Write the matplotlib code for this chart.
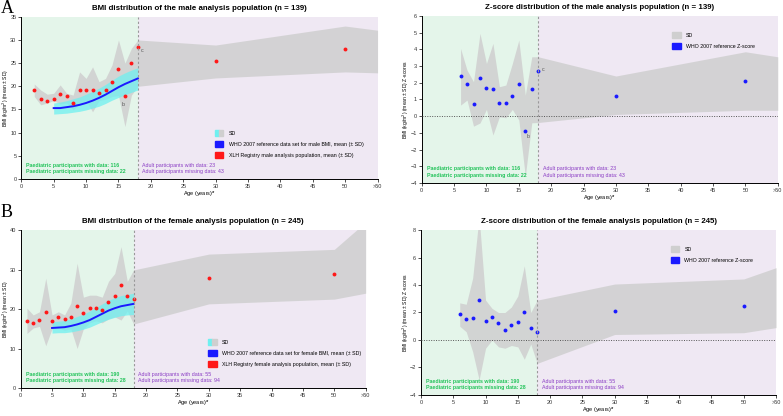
import matplotlib
matplotlib.use("Agg")
from matplotlib import pyplot as plt
from matplotlib.patches import Patch
from matplotlib.legend_handler import HandlerTuple

plt.rcParams['font.family'] = ['Liberation Sans', 'DejaVu Sans']

# ---- data ----
adult_age = [30, 50]
xtick_pos = [0, 5, 10, 15, 20, 25, 30, 35, 40, 45, 50, 55]
xtick_labels = ['0', '5', '10', '15', '20', '25', '30', '35', '40', '45', '50', '>50']

# male BMI
m_bmi_age = list(range(2, 19))
m_bmi = [19.1, 17.3, 16.8, 17.3, 18.3, 17.8, 16.5, 19.2, 19.1, 19.3, 18.6, 19.3,
         21.0, 23.7, 17.8, 25.0, 28.5]
m_bmi_adult = [25.4, 28.0]
m_band_age = list(range(2, 19)) + [30, 50, 55]
m_band_hi = [20.5, 19.2, 18.3, 18.5, 20.3, 18.5, 18.1, 23.1, 21.7, 24.2, 21.0, 21.7,
             24.6, 30.0, 25.0, 28.2, 30.0, 28.9, 33.0, 32.1]
m_band_lo = [17.8, 16.0, 16.4, 16.9, 16.2, 16.4, 14.9, 16.2, 16.9, 14.5, 16.9, 17.2,
             17.8, 18.0, 11.3, 18.1, 20.0, 21.8, 23.1, 22.9]

who_age = list(range(5, 19))
who_m_mean = [15.3, 15.3, 15.5, 15.7, 16.0, 16.4, 16.9, 17.5, 18.2, 19.0, 19.8, 20.5, 21.1, 21.7]
who_m_hi = [16.4, 16.6, 16.9, 17.3, 17.7, 18.3, 18.9, 19.6, 20.4, 21.3, 22.2, 22.9, 23.5, 24.0]
who_m_lo = [14.0, 14.1, 14.2, 14.4, 14.6, 14.9, 15.3, 15.7, 16.3, 17.0, 17.6, 18.2, 18.7, 19.2]

# female BMI
f_bmi_age = list(range(1, 19))
f_bmi = [17.0, 16.5, 17.1, 19.2, 17.0, 17.9, 17.5, 18.1, 20.8, 19.0, 20.3, 20.2,
         19.8, 21.7, 23.4, 26.0, 23.3, 22.6]
f_bmi_adult = [27.8, 28.9]
f_band_age = list(range(1, 19)) + [30, 50, 55]
f_band_hi = [20.2, 18.5, 19.3, 27.8, 18.5, 19.3, 18.5, 21.5, 31.6, 23.0, 23.5, 23.5,
             23.0, 27.0, 29.0, 35.8, 27.0, 29.9, 33.9, 35.1, 42.0]
f_band_lo = [13.8, 15.2, 15.6, 10.7, 15.0, 15.2, 14.6, 15.0, 10.0, 15.0, 16.5, 17.0,
             16.5, 17.5, 18.0, 17.2, 19.5, 16.2, 21.3, 22.5, 24.0]

who_f_mean = [15.2, 15.3, 15.4, 15.7, 16.1, 16.6, 17.2, 18.0, 18.8, 19.6, 20.2, 20.7, 21.0, 21.3]
who_f_hi = [16.8, 16.9, 17.1, 17.5, 18.1, 18.7, 19.5, 20.4, 21.3, 22.2, 22.9, 23.4, 23.7, 24.0]
who_f_lo = [13.9, 14.0, 14.0, 14.2, 14.5, 14.9, 15.4, 16.1, 16.8, 17.4, 17.9, 18.3, 18.5, 18.6]

# Z-scores
z_age = list(range(6, 19))
z_band_age = list(range(6, 19)) + [30, 50, 55]
m_z = [2.4, 1.9, 0.7, 2.3, 1.7, 1.6, 0.8, 0.8, 1.2, 1.9, -0.9, 1.6, 2.7]
m_z_adult = [1.2, 2.1]
m_z_hi = [4.05, 2.75, 2.06, 4.95, 3.15, 4.35, 1.76, 1.86, 3.15, 4.55, 1.26, 3.55, 3.55, 2.4, 3.85, 3.55]
m_z_lo = [0.66, 0.96, -0.6, -0.41, 0.4, -1.13, -0.04, -0.1, 0.4, -0.23, -3.6, -0.4, -0.38, 0.1, 0.35, 0.35]

f_z = [1.9, 1.5, 1.6, 2.9, 1.4, 1.7, 1.2, 0.7, 1.1, 1.3, 2.0, 0.9, 0.6]
f_z_adult = [2.1, 2.5]
f_z_hi = [2.7, 2.6, 4.5, 9.0, 2.9, 2.3, 2.0, 2.0, 2.4, 3.2, 5.4, 2.0, 2.9, 4.07, 4.44, 5.26]
f_z_lo = [1.0, 0.6, -0.85, -2.9, -0.6, 0.0, -0.5, -0.6, -0.4, -0.5, -1.4, -0.3, -1.7, 0.4, 0.53, 0.9]

GREEN_BG = '#e4f5ea'
PURPLE_BG = '#efe8f3'
GRAY = '#cfcfcf'
CYAN = '#6ff0f0'
RED = '#ff1818'
BLUE = '#1a1aff'
TXT_GREEN = '#22c35a'
TXT_PURPLE = '#8a3cc4'

fig = plt.figure(figsize=(7.83, 4.16), dpi=100)


def base_axes(rect, ylim, yticks, ylabel, title, counts):
    ax = fig.add_axes(rect)
    ax.set_xlim(0, 55)
    ax.set_ylim(*ylim)
    ax.axvspan(0, 18, color=GREEN_BG, zorder=0, lw=0)
    ax.axvspan(18, 55, color=PURPLE_BG, zorder=0, lw=0)
    ax.axvline(18, color='#999999', ls=(0, (2, 2)), lw=0.8, zorder=5)
    ax.set_xticks(xtick_pos)
    ax.set_xticklabels(xtick_labels)
    ax.set_yticks(yticks)
    ax.tick_params(labelsize=4, length=2, width=0.6, pad=1.5, colors='#333333')
    for s in ['top', 'right']:
        ax.spines[s].set_visible(False)
    for s in ['left', 'bottom']:
        ax.spines[s].set_linewidth(0.7)
    ax.set_xlabel('Age (years)$^a$', fontsize=4, labelpad=1)
    ax.set_ylabel(ylabel, fontsize=3.6)
    ax.yaxis.set_label_coords(-0.029, 0.5)
    ax.set_title(title, fontsize=5.7, fontweight='bold', pad=5)
    yr = ylim[1] - ylim[0]
    ax.text(0.8, ylim[0] + yr * 0.075, 'Paediatric participants with data: %d' % counts[0],
            color=TXT_GREEN, fontsize=3.8, fontweight='bold', zorder=6)
    ax.text(0.8, ylim[0] + yr * 0.035, 'Paediatric participants missing data: %d' % counts[1],
            color=TXT_GREEN, fontsize=3.8, fontweight='bold', zorder=6)
    ax.text(18.7, ylim[0] + yr * 0.075, 'Adult participants with data: %d' % counts[2],
            color=TXT_PURPLE, fontsize=3.8, zorder=6)
    ax.text(18.7, ylim[0] + yr * 0.035, 'Adult participants missing data: %d' % counts[3],
            color=TXT_PURPLE, fontsize=3.8, zorder=6)
    return ax


def bmi_panel(rect, title, sex, age, bmi, bmi_adult, band_age, hi, lo, wm, whi, wlo, ylim, yticks, counts, leg_xy, marks):
    ax = base_axes(rect, ylim, yticks, 'BMI (kg/m$^2$) (mean \u00b1 SD)', title, counts)
    ax.fill_between(band_age, lo, hi, color=GRAY, alpha=0.85, lw=0, zorder=1)
    ax.fill_between(who_age, wlo, whi, color=CYAN, alpha=0.75, lw=0, zorder=2)
    ax.plot(who_age, wm, color=BLUE, lw=1.4, zorder=3)
    ax.plot(age + adult_age, bmi + bmi_adult, 'o', color=RED, ms=2.8, mew=0, zorder=4)
    for txt, x, y in marks:
        ax.text(x, y, txt, fontsize=3.8, color='#555555', zorder=6)
    h_sd = (Patch(color=CYAN), Patch(color=GRAY))
    handles = [h_sd, Patch(color=BLUE), Patch(color=RED)]
    labels = ['SD',
              'WHO 2007 reference data set for %s BMI, mean (\u00b1 SD)' % sex,
              'XLH Registry %s analysis population, mean (\u00b1 SD)' % sex]
    ax.legend(handles, labels, handler_map={tuple: HandlerTuple(ndivide=None, pad=0)},
              loc='upper left', bbox_to_anchor=leg_xy, frameon=False, fontsize=3.8,
              handlelength=1.6, handleheight=1.4, labelspacing=0.9, handletextpad=1.0)
    return ax


def z_panel(rect, title, z, z_adult, hi, lo, ylim, yticks, counts, leg_xy, marks):
    ax = base_axes(rect, ylim, yticks, 'BMI (kg/m$^2$) (mean \u00b1 SD) Z-scores', title, counts)
    ax.fill_between(z_band_age, lo, hi, color=GRAY, alpha=0.85, lw=0, zorder=1)
    ax.axhline(0, color='#555555', ls=(0, (1, 1.5)), lw=0.7, zorder=3)
    ax.plot(z_age + adult_age, z + z_adult, 'o', color=BLUE, ms=2.8, mew=0, zorder=4)
    for txt, x, y in marks:
        ax.text(x, y, txt, fontsize=3.8, color='#555555', zorder=6)
    handles = [Patch(color=GRAY), Patch(color=BLUE)]
    labels = ['SD', 'WHO 2007 reference Z-score']
    ax.legend(handles, labels, loc='upper left', bbox_to_anchor=leg_xy, frameon=False,
              fontsize=3.8, handlelength=1.6, handleheight=1.4, labelspacing=0.9,
              handletextpad=1.0)
    return ax


bmi_panel([0.0272, 0.5697, 0.455, 0.390],
          'BMI distribution of the male analysis population (n = 139)', 'male',
          m_bmi_age, m_bmi, m_bmi_adult, m_band_age, m_band_hi, m_band_lo,
          who_m_mean, who_m_hi, who_m_lo, (0, 35), range(0, 36, 5),
          (116, 22, 23, 43), (0.53, 0.33), [('b', 15.5, 15.8), ('c', 18.5, 27.5)])

z_panel([0.5386, 0.560, 0.4547, 0.402],
        'Z-score distribution of the male analysis population (n = 139)',
        m_z, m_z_adult, m_z_hi, m_z_lo, (-4, 6), range(-4, 7),
        (116, 22, 23, 43), (0.69, 0.93), [('b', 16.2, -1.3), ('c', 18.6, 2.7)])

bmi_panel([0.0264, 0.0673, 0.4406, 0.3798],
          'BMI distribution of the female analysis population (n = 245)', 'female',
          f_bmi_age, f_bmi, f_bmi_adult, f_band_age, f_band_hi, f_band_lo,
          who_f_mean, who_f_hi, who_f_lo, (0, 40), range(0, 41, 10),
          (190, 28, 55, 94), (0.53, 0.34), [])

z_panel([0.5377, 0.0505, 0.4534, 0.3966],
        'Z-score distribution of the female analysis population (n = 245)',
        f_z, f_z_adult, f_z_hi, f_z_lo, (-4, 8), range(-4, 9, 2),
        (190, 28, 55, 94), (0.69, 0.93), [])

fig.text(0.001, 0.999, 'A', fontsize=13, family='Liberation Serif', va='top')
fig.text(0.001, 0.509, 'B', fontsize=13, family='Liberation Serif', va='top')

fig.savefig('out.png', dpi=100)
